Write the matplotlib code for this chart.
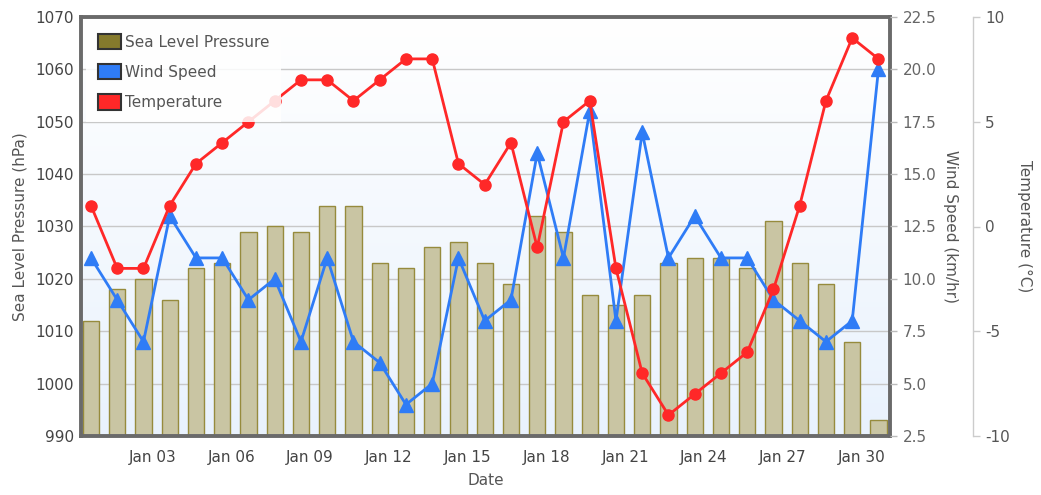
import numpy as np
import matplotlib
matplotlib.use("Agg")
import matplotlib.pyplot as plt
from matplotlib.patches import Patch

plt.rcParams["axes.unicode_minus"] = False

# --- data (Jan 01 .. Jan 31) ---
days = list(range(1, 32))
pressure = [1012, 1018, 1020, 1016, 1022, 1023, 1029, 1030, 1029, 1034,
            1034, 1023, 1022, 1026, 1027, 1023, 1019, 1032, 1029, 1017,
            1015, 1017, 1023, 1024, 1024, 1022, 1031, 1023, 1019, 1008,
            993]
wind = [11.0, 9.0, 7.0, 13.0, 11.0, 11.0, 9.0, 10.0, 7.0, 11.0,
        7.0, 6.0, 4.0, 5.0, 11.0, 8.0, 9.0, 16.0, 11.0, 18.0,
        8.0, 17.0, 11.0, 13.0, 11.0, 11.0, 9.0, 8.0, 7.0, 8.0,
        20.0]
temperature = [1, -2, -2, 1, 3, 4, 5, 6, 7, 7,
               6, 7, 8, 8, 3, 2, 4, -1, 5, 6,
               -2, -7, -9, -8, -7, -6, -3, 1, 6, 9,
               8]
tick_labels = ["Jan 03", "Jan 06", "Jan 09", "Jan 12", "Jan 15",
               "Jan 18", "Jan 21", "Jan 24", "Jan 27", "Jan 30"]

BAR_FACE = "#c9c5a3"
BAR_EDGE = "#968b3d"
OLIVE = "#857a2c"
BLUE = "#2f7cf6"
RED = "#ff2828"
FRAME = "#6a6a6a"
TXT = "#444444"

fig = plt.figure(figsize=(10.41, 4.95), dpi=100)
ax = fig.add_axes([81 / 1041, 1 - 436 / 495, 809 / 1041, 419 / 495])

# gradient background of the plot area
grad = np.linspace(0, 1, 256).reshape(-1, 1)
cmap = matplotlib.colors.LinearSegmentedColormap.from_list("bg", ["#ffffff", "#e9f2fd"])
ax.imshow(grad, aspect="auto", cmap=cmap, extent=[0, 1, 0, 1],
          transform=ax.transAxes, zorder=0)

ax.bar(days, pressure, width=0.62, bottom=0, color=BAR_FACE, edgecolor=BAR_EDGE,
       linewidth=1.0, zorder=2)
ax.set_ylim(990, 1070)
ax.set_xlim(0.62, 31.44)
ax.set_yticks(np.arange(990, 1071, 10))
ax.yaxis.grid(True, color="#c8c8c8", linewidth=1.0, zorder=1)
ax.set_axisbelow(True)
ax.set_xticks(np.arange(3, 31, 3) + 0.35)
ax.set_xticklabels(tick_labels)
ax.tick_params(axis="both", length=0, labelsize=11, labelcolor=TXT)
ax.tick_params(axis="y", pad=5)
ax.tick_params(axis="x", pad=10)
ax.set_ylabel("Sea Level Pressure (hPa)", fontsize=11, color="#555555", labelpad=6)
ax.set_xlabel("Date", fontsize=11, color="#555555", labelpad=6)
for sp in ax.spines.values():
    sp.set_color(FRAME)
    sp.set_linewidth(2.8)
    sp.set_zorder(10)

# wind speed axis
ax2 = ax.twinx()
ax2.plot(days, wind, color=BLUE, linewidth=2.0, marker="^", markersize=10,
         clip_on=False, zorder=3)
ax2.set_ylim(2.5, 22.5)
ax2.set_yticks(np.arange(2.5, 22.6, 2.5))
ax2.set_yticklabels([f"{v:.1f}" for v in np.arange(2.5, 22.6, 2.5)])
ax2.tick_params(axis="y", length=5, width=1, color="#bbbbbb", labelsize=11,
                labelcolor="#666666", pad=4)
for sp in ax2.spines.values():
    sp.set_visible(False)
ax2.set_ylabel("Wind Speed (km/hr)", fontsize=11, color="#555555",
               rotation=-90, labelpad=16)

# temperature axis
ax3 = ax.twinx()
ax3.spines["right"].set_position(("outward", 59.5))
ax3.plot(days, temperature, color=RED, linewidth=2.0, marker="o", markersize=8,
         clip_on=False, zorder=4)
ax3.set_ylim(-10, 10)
ax3.set_yticks([-10, -5, 0, 5, 10])
ax3.tick_params(axis="y", length=5, width=1, color="#cccccc", labelsize=11,
                labelcolor="#555555", pad=4)
for name, sp in ax3.spines.items():
    sp.set_visible(name == "right")
ax3.spines["right"].set_color("#cccccc")
ax3.spines["right"].set_linewidth(1.0)
ax3.set_ylabel("Temperature (°C)", fontsize=11, color="#555555",
               rotation=-90, labelpad=16)

handles = [Patch(facecolor=OLIVE, edgecolor="#333333", linewidth=1.5),
           Patch(facecolor=BLUE, edgecolor="#333333", linewidth=1.5),
           Patch(facecolor=RED, edgecolor="#333333", linewidth=1.5)]
leg = ax3.legend(handles, ["Sea Level Pressure", "Wind Speed", "Temperature"],
                 loc="upper left", bbox_to_anchor=(0.0, 1.0), fontsize=11,
                 handlelength=1.55, handleheight=1.15, handletextpad=0.2,
                 labelspacing=0.95, borderpad=0.8, borderaxespad=0.3,
                 frameon=True, fancybox=False, framealpha=0.85,
                 edgecolor="none", facecolor="white")
for t in leg.get_texts():
    t.set_color("#555555")
leg.set_zorder(20)

fig.savefig("out.png", dpi=100)
